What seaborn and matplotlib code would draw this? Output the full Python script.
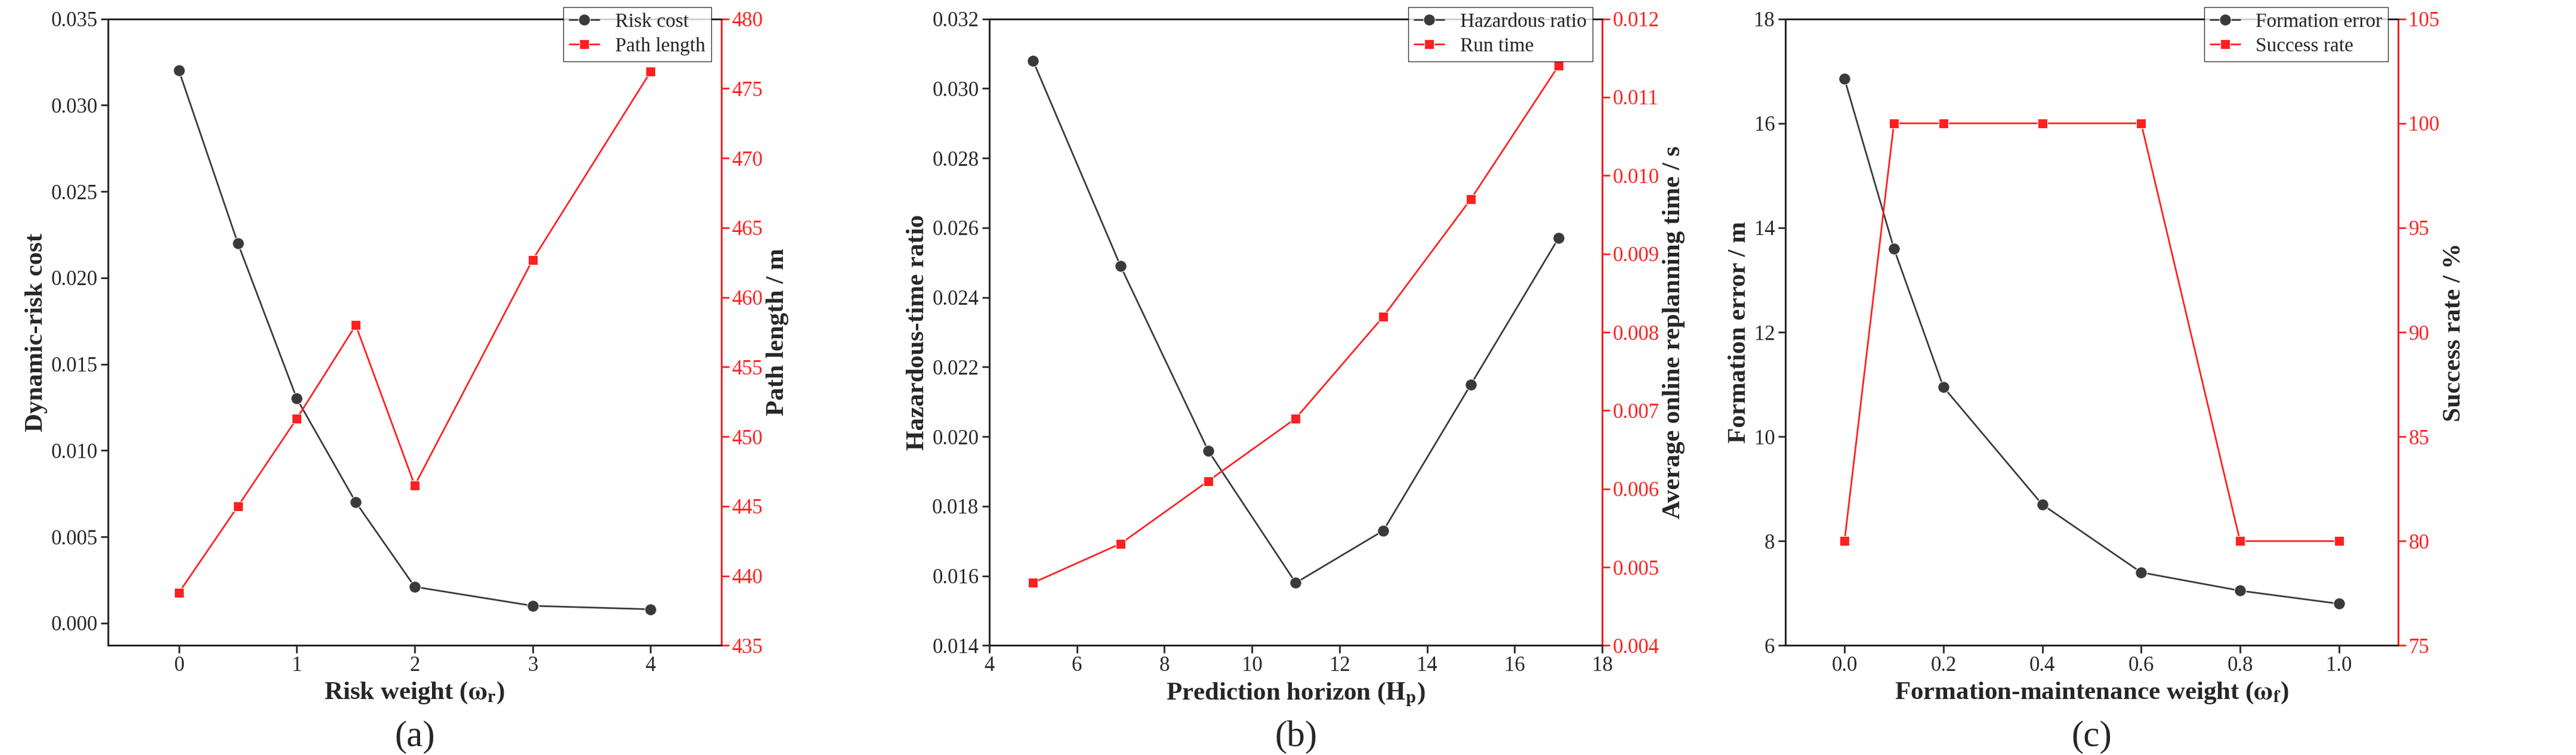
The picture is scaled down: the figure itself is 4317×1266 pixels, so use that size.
import matplotlib
matplotlib.use("Agg")
import matplotlib.pyplot as plt
import seaborn as sns
import pandas as pd

sns.set_style("ticks")
plt.rcParams['font.family'] = ['Liberation Serif', 'DejaVu Serif']
plt.rcParams['mathtext.fontset'] = 'stix'

# Panel (a)
risk_w = [0, 0.5, 1, 1.5, 2, 3, 4]
risk_cost = [0.032, 0.022, 0.013, 0.007, 0.0021, 0.001, 0.0008]
path_len = [438.8, 445.0, 451.3, 458.0, 446.5, 462.7, 476.2]
# Panel (b)
horizon = [5, 7, 9, 11, 13, 15, 17]
haz_ratio = [0.0308, 0.0249, 0.0196, 0.0158, 0.0173, 0.0215, 0.0257]
run_time = [0.0048, 0.0053, 0.0061, 0.0069, 0.0082, 0.0097, 0.0114]
# Panel (c)
form_w = [0.0, 0.1, 0.2, 0.4, 0.6, 0.8, 1.0]
form_err = [16.85, 13.6, 10.95, 8.7, 7.4, 7.05, 6.8]
success = [80, 100, 100, 100, 100, 80, 80]

fig = plt.figure(figsize=(43.17, 12.66), dpi=100)
lefts = [0.042, 0.384, 0.693]
W, B, H = 0.238, 0.145, 0.83
GREY, RED = '#3a3a3a', '#ff2020'
FS = 25
LFS = 31

def panel(left, x, y1, y2, n1, n2, xl, yl1, yl2, xlim, ylim1, ylim2, xt, yt1, yt2, fmt1, fmt2, xfmt, tag):
    ax = fig.add_axes([left, B, W, H])
    ax2 = ax.twinx()
    sns.lineplot(x=x, y=y1, ax=ax, color=GREY, marker='o', markersize=14, lw=2, label=n1, legend=False)
    sns.lineplot(x=x, y=y2, ax=ax2, color=RED, marker='s', markersize=12, lw=2, label=n2, legend=False)
    ax.set_xlim(*xlim); ax.set_ylim(*ylim1); ax2.set_ylim(*ylim2)
    ax.set_xticks(xt); ax.set_yticks(yt1); ax2.set_yticks(yt2)
    ax.set_xticklabels([xfmt(v) for v in xt], fontsize=FS)
    ax.set_yticklabels([fmt1(v) for v in yt1], fontsize=FS)
    ax2.set_yticklabels([fmt2(v) for v in yt2], fontsize=FS, color=RED)
    ax.set_xlabel(xl, fontsize=LFS, fontweight='bold', labelpad=6)
    ax.set_ylabel(yl1, fontsize=LFS, fontweight='bold')
    ax2.set_ylabel(yl2, fontsize=LFS, fontweight='bold')
    for a in (ax, ax2):
        a.tick_params(direction='out', length=9, width=2)
        for s in a.spines.values():
            s.set_linewidth(2)
    ax2.spines['right'].set_color(RED)
    ax2.tick_params(axis='y', colors=RED)
    h1, l1 = ax.get_legend_handles_labels()
    h2, l2 = ax2.get_legend_handles_labels()
    ax2.legend(h1 + h2, l1 + l2, loc='upper right', bbox_to_anchor=(1.0, 1.035),
               fontsize=24, frameon=True, fancybox=False, edgecolor='black',
               handlelength=1.5, borderpad=0.3, labelspacing=0.3)
    fig.text(left + W / 2, 0.012, tag, ha='center', fontsize=44)

panel(lefts[0], risk_w, risk_cost, path_len, 'Risk cost', 'Path length',
      r'Risk weight ($\mathbf{\omega_r}$)', 'Dynamic-risk cost', 'Path length / m',
      (-0.6, 4.6), (-0.0013, 0.035), (435, 480), [0, 1, 2, 3, 4],
      [0, 0.005, 0.01, 0.015, 0.02, 0.025, 0.03, 0.035], list(range(435, 481, 5)),
      lambda v: f'{v:.3f}', lambda v: f'{v}', lambda v: f'{v}', '(a)')
panel(lefts[1], horizon, haz_ratio, run_time, 'Hazardous ratio', 'Run time',
      r'Prediction horizon ($\mathbf{H_p}$)', 'Hazardous-time ratio', 'Average online replanning time / s',
      (4, 18), (0.014, 0.032), (0.004, 0.012), [4, 6, 8, 10, 12, 14, 16, 18],
      [0.014 + 0.002 * i for i in range(10)], [0.004 + 0.001 * i for i in range(9)],
      lambda v: f'{v:.3f}', lambda v: f'{v:.3f}', lambda v: f'{v}', '(b)')
panel(lefts[2], form_w, form_err, success, 'Formation error', 'Success rate',
      r'Formation-maintenance weight ($\mathbf{\omega_f}$)', 'Formation error / m', 'Success rate / %',
      (-0.12, 1.12), (6, 18), (75, 105), [0.0, 0.2, 0.4, 0.6, 0.8, 1.0],
      list(range(6, 19, 2)), list(range(75, 106, 5)),
      lambda v: f'{v}', lambda v: f'{v}', lambda v: f'{v:.1f}', '(c)')

fig.savefig('out.png', dpi=100)
